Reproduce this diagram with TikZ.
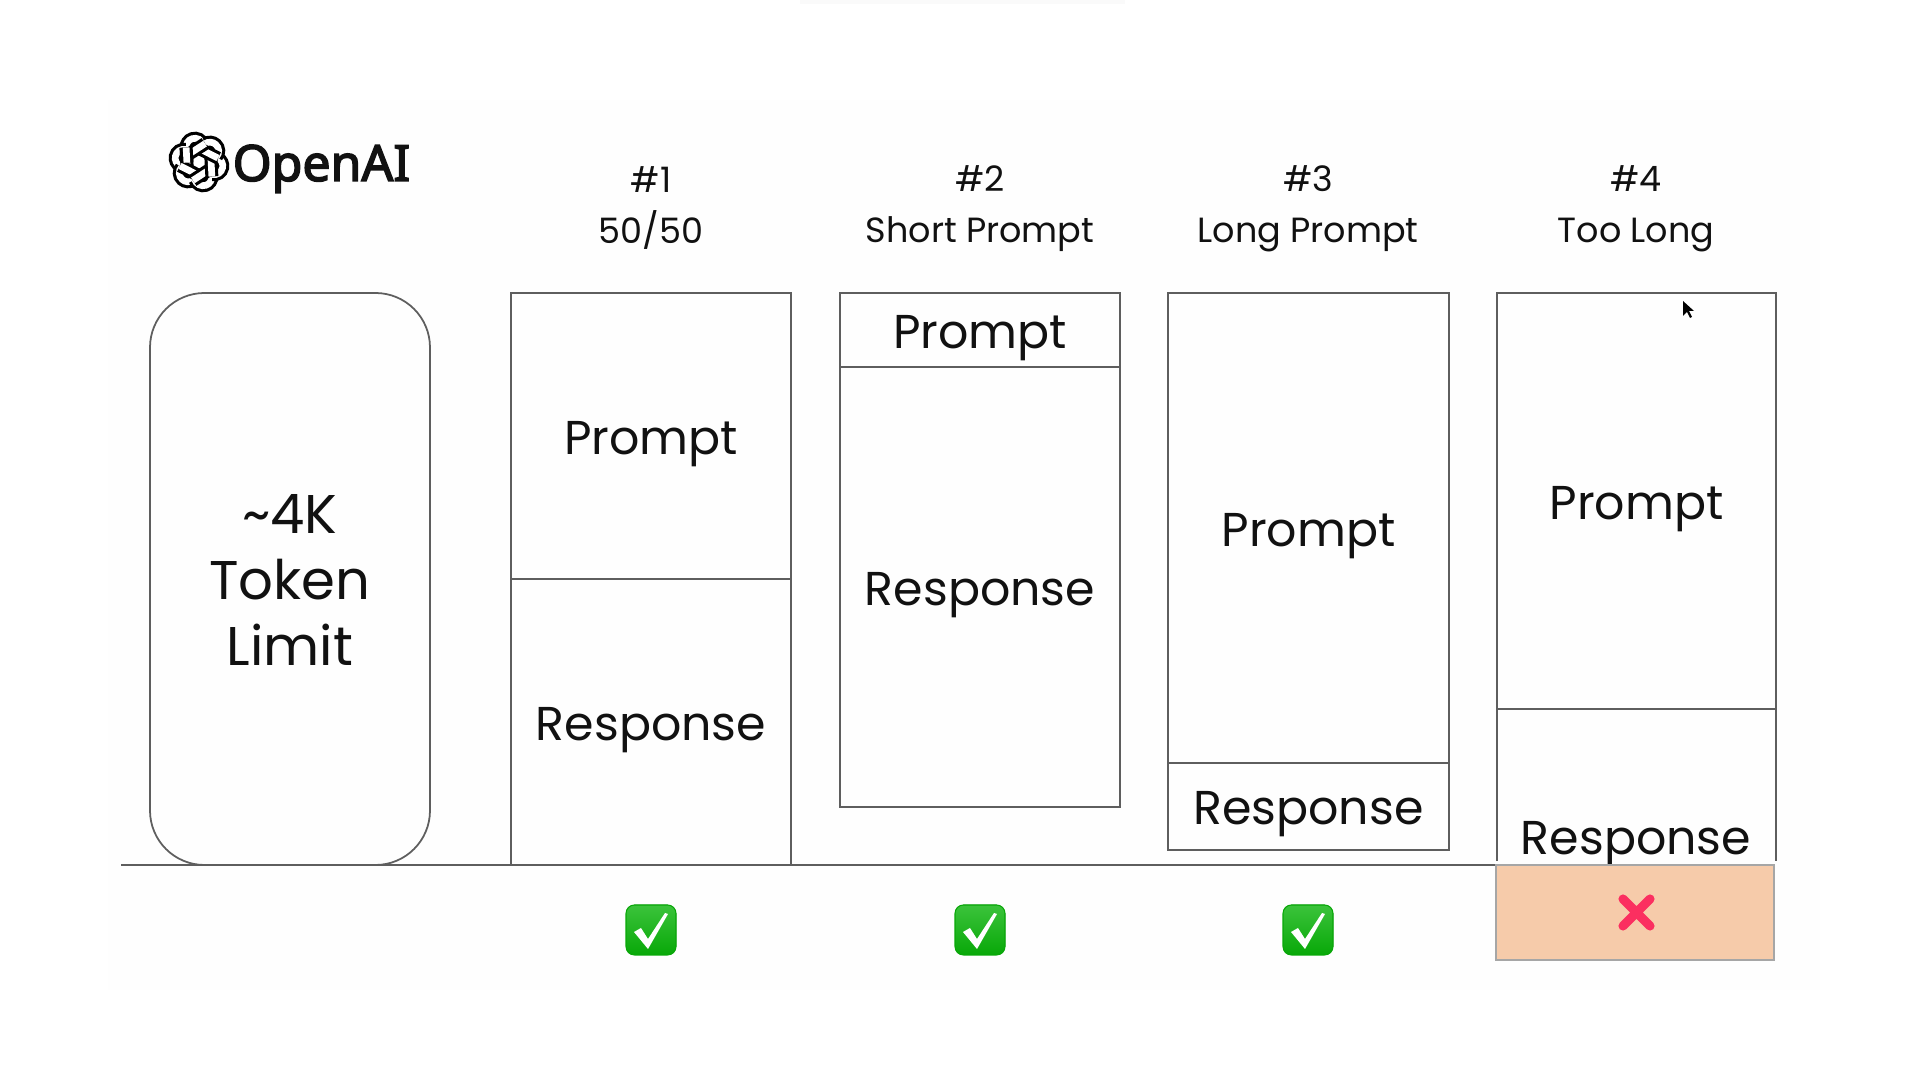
\documentclass[tikz,border=0pt]{standalone}
\usepackage{fontspec}
\usepackage{xcolor}
\usepackage{tikz}
\setmainfont{Poppins}
\newfontfamily\logofont[FakeBold=3]{Noto Sans}
\definecolor{ink}{HTML}{111111}
\definecolor{edge}{HTML}{5E5E5E}
\definecolor{paper}{HTML}{FEFEFE}
\definecolor{smudge}{HTML}{FAFAFA}
\definecolor{over}{HTML}{F6CBAA}
\definecolor{overedge}{HTML}{A6A6A6}
\definecolor{cross}{HTML}{FB2F60}
\definecolor{okgreen}{HTML}{0AB40A}
\definecolor{okdark}{HTML}{08A808}
\tikzset{
    segline/.style={draw=edge,line width=0.5pt},
    segtext/.style={text=ink,font=\fontsize{13.5}{14}\selectfont,inner sep=0pt},
    headtext/.style={text=ink,font=\fontsize{9.95}{14.5}\selectfont,align=center,inner sep=0pt},
    limittext/.style={text=ink,font=\fontsize{15.5}{18.8}\selectfont,align=center,inner sep=0pt},
    bandout/.style={black,line width=3.7pt},
    bandin/.style={white,line width=1.9pt},
}
\newcommand{\segment}[6]{
    \pgfmathsetmacro{\mx}{(#2+#4)/2}
    \pgfmathsetmacro{\my}{(#3+#5)/2+8}
    \draw[segline] (#2,#3) rectangle (#4,#5);
    \node[segtext] (#1) at (\mx,\my) {#6};
}
\newcommand{\okbox}[2]{
    \pgfmathsetmacro{\x}{#1}
    \pgfmathsetmacro{\y}{#2}
    \fill[top color=okgreen!80!white,bottom color=okdark,draw=okdark,line width=0.3pt,rounded corners=2.4pt] (\x-25,\y-25) rectangle (\x+25,\y+25);
    \fill[white] (\x-17,\y+2) -- (\x-10,\y-2) -- (\x-3,\y+9) -- (\x+14,\y-17) -- (\x+17,\y-16) -- (\x-3,\y+19) -- cycle;
}
\newcommand{\knotlogo}[2]{
    \begin{scope}[shift={(#1,#2)},x=0.011cm,y=0.011cm]
        % lobes first, the straight bands lie over them
        \foreach \a in {-27,33,...,273} {
            \draw[bandout,rotate=\a] (-3.8,16.06) arc (45:210:8);
            \draw[bandin,rotate=\a] (-3.8,16.06) arc (45:210:8);
        }
        \foreach \a in {-27,33,...,273} {
            \draw[bandout,rotate=\a] (-16.38,6.4) -- (-6.35,-11);
            \draw[bandin,rotate=\a] (-16.38,6.4) -- (-6.35,-11);
        }
        \draw[bandout,rotate=-27] (-16.38,6.4) -- (-9.53,-5.5);
        \draw[bandin,rotate=-27] (-16.38,6.4) -- (-9.53,-5.5);
    \end{scope}
}

\begin{document}
\begin{tikzpicture}[x=0.01cm,y=-0.01cm]
    \fill[white] (0,0) rectangle (1920,1080);
    \fill[paper] (108,100) rectangle (1820,990);
    \fill[smudge] (800,0) rectangle (1125,4);
    \useasboundingbox (0,0) rectangle (1920,1080);

    \knotlogo{199}{162};
    \node[text=ink,font=\logofont\fontsize{14.2}{14}\selectfont,inner sep=0pt,anchor=base west] (brand) at (232,181) {OpenAI};

    \node[headtext] (head1) at (651,208) {\#1\\50/50};
    \node[headtext] (head2) at (980,209) {\#2\\Short Prompt};
    \node[headtext] (head3) at (1308,209) {\#3\\Long Prompt};
    \node[headtext] (head4) at (1636,209) {\#4\\Too Long};

    \draw[segline,rounded corners=15.5pt] (150,293) rectangle (430,865);
    \node[limittext] (limit) at (290,580) {\textasciitilde4K\\Token\\Limit};

    \segment{prompt1}{511}{293}{791}{579}{Prompt};
    \segment{response1}{511}{579}{791}{865}{Response};

    \segment{prompt2}{840}{293}{1120}{367}{Prompt};
    \segment{response2}{840}{367}{1120}{807}{Response};

    \segment{prompt3}{1168}{293}{1449}{763}{Prompt};
    \segment{response3}{1168}{763}{1449}{850}{Response};

    \segment{prompt4}{1497}{293}{1776}{709}{Prompt};
    \draw[segline] (1497,861) -- (1497,709) -- (1776,709) -- (1776,861);
    \node[segtext] (response4) at (1636,844) {Response};

    \coordinate (floorstart) at (121,865);
    \coordinate (floorend) at (1496,865);
    \draw[segline] (floorstart) -- (floorend);

    \okbox{651}{930};
    \okbox{980}{930};
    \okbox{1308}{930};

    \draw[draw=overedge,fill=over,line width=0.55pt] (1496,865) rectangle (1774,960);
    \draw[cross,line width=2.6pt,line cap=round] (1623,899) -- (1650,926) (1650,899) -- (1623,926);

    \fill[black] (1683,301) -- (1683,316) -- (1687,312) -- (1690,318) -- (1692,317) -- (1689,311) -- (1694,311) -- cycle;
\end{tikzpicture}
\end{document}
